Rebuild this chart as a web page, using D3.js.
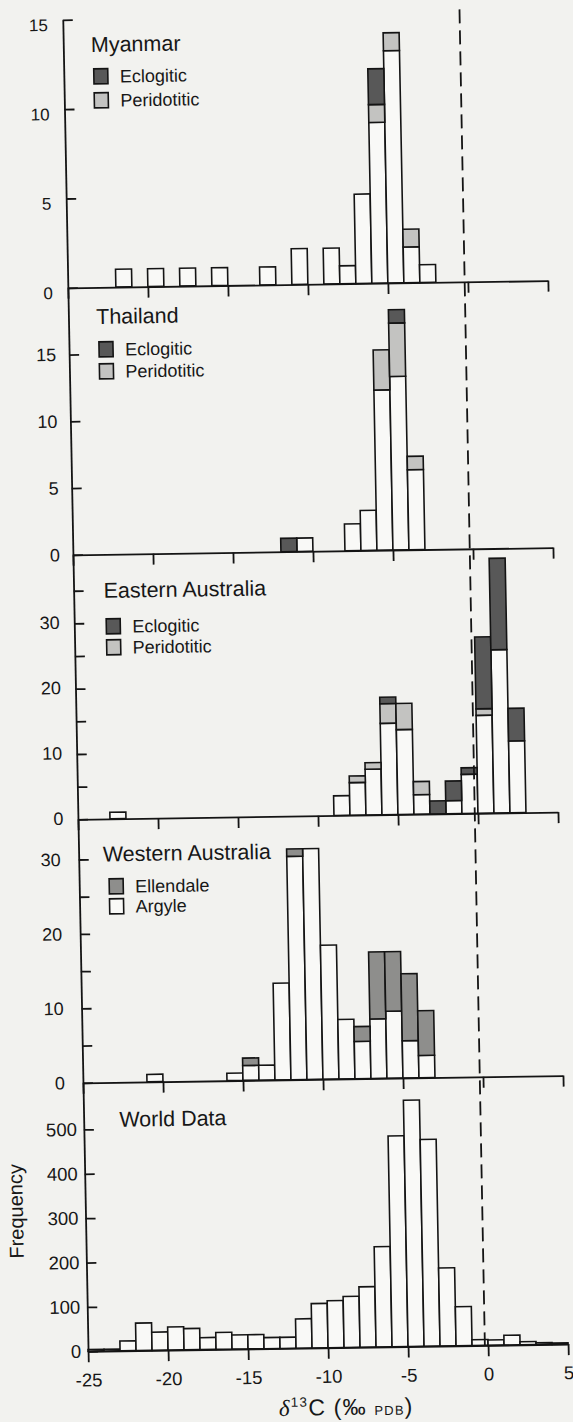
<!DOCTYPE html>
<html lang="en">
<head>
    <meta charset="UTF-8">
    <title>Diamond carbon isotopes</title>
    <script src="https://cdn.jsdelivr.net/npm/d3@7/dist/d3.min.js"></script>
</head>
<body>
<svg id="chart"></svg>
</body>

<style>
    body {
        margin: 0;
        background: #f2f2ef;
    }

    svg {
        display: block;
    }

    text {
        font-family: "Liberation Sans", Arial, Helvetica, sans-serif;
        fill: #171717;
    }

    rect.bar, rect.swatch {
        stroke: #141414;
        stroke-width: 1.6px;
    }

    .axis path, .axis line {
        stroke: #141414;
        stroke-width: 1.8px;
    }
</style>

<script>
    // every bin is 1 permil wide, listed by its left edge
    const myanmarBins = [-22, -20, -18, -16, -13, -11, -9, -8, -7, -6, -5, -4, -3];
    const myanmarOther = [1, 1, 1, 1, 1, 2, 2, 1, 5, 9, 13, 2, 1];
    const myanmarPeridotitic = [0, 0, 0, 0, 0, 0, 0, 0, 0, 1, 1, 1, 0];
    const myanmarEclogitic = [0, 0, 0, 0, 0, 0, 0, 0, 0, 2, 0, 0, 0];

    const thailandBins = [-12, -11, -8, -7, -6, -5, -4];
    const thailandOther = [0, 1, 2, 3, 12, 13, 6];
    const thailandPeridotitic = [0, 0, 0, 0, 3, 4, 1];
    const thailandEclogitic = [1, 0, 0, 0, 0, 1, 0];

    const eastBins = [-23, -9, -8, -7, -6, -5, -4, -3, -2, -1, 0, 1, 2];
    const eastOther = [1, 3, 5, 7, 14, 13, 3, 0, 2, 6, 15, 25, 11];
    const eastPeridotitic = [0, 0, 1, 1, 3, 4, 2, 0, 0, 0, 1, 0, 0];
    const eastEclogitic = [0, 0, 0, 0, 1, 0, 0, 2, 3, 1, 11, 14, 5];

    const westBins = [-21, -16, -15, -14, -13, -12, -11, -10, -9, -8, -7, -6, -5, -4];
    const westArgyle = [1, 1, 2, 2, 13, 30, 31, 18, 8, 5, 8, 9, 5, 3];
    const westEllendale = [0, 0, 1, 0, 0, 1, 0, 0, 0, 2, 9, 8, 9, 6];

    const worldBins = [-25, -24, -23, -22, -21, -20, -19, -18, -17, -16, -15, -14, -13, -12, -11,
        -10, -9, -8, -7, -6, -5, -4, -3, -2, -1, 0, 1, 2, 3, 4];
    const worldCounts = [4, 4, 22, 62, 41, 52, 48, 27, 38, 32, 32, 25, 25, 66, 100,
        106, 115, 136, 226, 475, 555, 466, 176, 88, 13, 12, 22, 7, 4, 3];

    const xTicks = [-25, -20, -15, -10, -5, 0, 5];
    const myanmarTicks = [0, 5, 10, 15];
    const thailandTicks = [0, 5, 10, 15];
    const eastTicks = [0, 5, 10, 15, 20, 25, 30, 35];
    const eastLabels = [0, 10, 20, 30];
    const westTicks = [0, 5, 10, 15, 20, 25, 30];
    const westLabels = [0, 10, 20, 30];
    const worldTicks = [0, 100, 200, 300, 400, 500];

    const fills = {
        other: '#f9f9f7',
        peri: '#c3c3c1',
        eclo: '#585858',
        argyle: '#f9f9f7',
        ellendale: '#8e8e8c',
        count: '#f9f9f7'
    };

    const width = 573;
    const height = 1422;
    const x = d3.scaleLinear().domain([-25, 5]).range([78, 558]);

    const svg = d3.select('#chart')
        .attr('width', width)
        .attr('height', height);

    // the printed page was scanned slightly askew; one affine transform reproduces it
    const skewX = 0.019, skewY = -0.015;
    const g = svg.append('g')
        .attr('transform', `matrix(1,${skewY},${skewX},1,${-skewX * 818},${-skewY * 300})`);

    const gBars = g.append('g');
    const gAxes = g.append('g');
    const gText = g.append('g');

    const panels = [
        {
            title: 'Myanmar', bins: myanmarBins, keys: ['other', 'peri', 'eclo'],
            series: [myanmarOther, myanmarPeridotitic, myanmarEclogitic],
            legend: [['eclo', 'Eclogitic'], ['peri', 'Peridotitic']],
            top: 16.5, bottom: 284.5, max: 15, ticks: myanmarTicks, labels: myanmarTicks,
            labelSize: 17, pad: 15, shift: 5,
            titleX: 105.6, titleY: 49, legendX: 108, legendY: [80, 104]
        },
        {
            title: 'Thailand', bins: thailandBins, keys: ['other', 'peri', 'eclo'],
            series: [thailandOther, thailandPeridotitic, thailandEclogitic],
            legend: [['eclo', 'Eclogitic'], ['peri', 'Peridotitic']],
            top: 284.5, bottom: 551.5, max: 20, ticks: thailandTicks, labels: thailandTicks,
            labelSize: 18, pad: 13, shift: 0,
            titleX: 105.7, titleY: 321, legendX: 108, legendY: [353, 375]
        },
        {
            title: 'Eastern Australia', bins: eastBins, keys: ['other', 'peri', 'eclo'],
            series: [eastOther, eastPeridotitic, eastEclogitic],
            legend: [['eclo', 'Eclogitic'], ['peri', 'Peridotitic']],
            top: 551.5, bottom: 816, max: 40.5, ticks: eastTicks, labels: eastLabels,
            labelSize: 18, pad: 14.5, shift: -1,
            titleX: 107.9, titleY: 595, legendX: 110, legendY: [630, 651]
        },
        {
            title: 'Western Australia', bins: westBins, keys: ['argyle', 'ellendale'],
            series: [westArgyle, westEllendale],
            legend: [['ellendale', 'Ellendale'], ['argyle', 'Argyle']],
            top: 816, bottom: 1079.5, max: 35.4, ticks: westTicks, labels: westLabels,
            labelSize: 18, pad: 18, shift: 0,
            titleX: 102.2, titleY: 858.5, legendX: 108, legendY: [890, 910]
        },
        {
            title: 'World Data', bins: worldBins, keys: ['count'],
            series: [worldCounts],
            legend: [],
            top: 1079.5, bottom: 1348, max: 605, ticks: worldTicks, labels: worldTicks,
            labelSize: 18.5, pad: 7, shift: 0, xLabels: true,
            titleX: 113.6, titleY: 1124, legendX: 0, legendY: []
        }
    ];

    function drawPanel(p) {
        const y = d3.scaleLinear().domain([0, p.max]).range([p.bottom, p.top]);

        const rows = p.bins.map((bin, i) => {
            const row = {bin: bin};
            p.keys.forEach((k, j) => row[k] = p.series[j][i]);
            return row;
        });

        const stacked = d3.stack().keys(p.keys)(rows);

        stacked.forEach(layer => {
            gBars.append('g')
                .selectAll('rect')
                .data(layer.filter(d => d[1] > d[0]))
                .join('rect')
                .attr('class', 'bar')
                .attr('fill', fills[layer.key])
                .attr('x', d => x(d.data.bin))
                .attr('width', d => x(d.data.bin + 1) - x(d.data.bin))
                .attr('y', d => y(d[1]))
                .attr('height', d => y(d[0]) - y(d[1]));
        });

        const yAxis = gAxes.append('g')
            .attr('class', 'axis')
            .attr('transform', `translate(${x(-25)},0)`)
            .call(d3.axisLeft(y)
                .tickValues(p.ticks)
                .tickSize(-10)
                .tickSizeOuter(0)
                .tickPadding(p.pad)
                .tickFormat(d => p.labels.includes(d) ? String(d) : ''))
            .attr('font-size', null)
            .attr('font-family', null);

        yAxis.selectAll('text')
            .attr('font-size', p.labelSize)
            .attr('y', p.shift);

        const xAxis = gAxes.append('g')
            .attr('class', 'axis')
            .attr('transform', `translate(0,${p.bottom})`)
            .call(d3.axisBottom(x)
                .tickValues(xTicks)
                .tickSize(11)
                .tickSizeOuter(0)
                .tickPadding(11)
                .tickFormat(d => p.xLabels ? String(d) : ''))
            .attr('font-size', null)
            .attr('font-family', null);

        xAxis.selectAll('text')
            .attr('font-size', 18.5);

        gText.append('text')
            .attr('x', p.titleX)
            .attr('y', p.titleY)
            .attr('font-size', 21.5)
            .text(p.title);

        p.legend.forEach(([key, label], i) => {
            const ly = p.legendY[i];
            gText.append('rect')
                .attr('class', 'swatch')
                .attr('x', p.legendX)
                .attr('y', ly - 14)
                .attr('width', 14)
                .attr('height', 15)
                .attr('fill', fills[key]);

            gText.append('text')
                .attr('x', p.legendX + 26)
                .attr('y', ly)
                .attr('font-size', 18)
                .text(label);
        });
    }

    panels.forEach(drawPanel);

    // dashed reference line running through every panel
    gAxes.append('line')
        .attr('x1', x(-0.2))
        .attr('x2', x(-0.2))
        .attr('y1', 12)
        .attr('y2', 1348)
        .attr('stroke', '#141414')
        .attr('stroke-width', 1.8)
        .attr('stroke-dasharray', '14,7');

    const xTitle = gText.append('text')
        .attr('x', 335)
        .attr('y', 1415.5)
        .attr('text-anchor', 'middle')
        .attr('font-size', 23)
        .attr('letter-spacing', 1.2);

    xTitle.append('tspan')
        .style('font-family', '"Liberation Serif", "DejaVu Serif", serif')
        .style('font-style', 'italic')
        .text('δ');
    xTitle.append('tspan')
        .attr('font-size', 13.5)
        .attr('dy', -9)
        .text('13');
    xTitle.append('tspan')
        .attr('dy', 9)
        .text('C (‰ ');
    xTitle.append('tspan')
        .attr('font-size', 13)
        .attr('dy', 0.5)
        .text('PDB');
    xTitle.append('tspan')
        .attr('dy', -0.5)
        .text(')');

    gText.append('text')
        .attr('transform', 'translate(15.5,1207) rotate(-90)')
        .attr('text-anchor', 'middle')
        .attr('font-size', 20)
        .text('Frequency');
</script>
</html>
